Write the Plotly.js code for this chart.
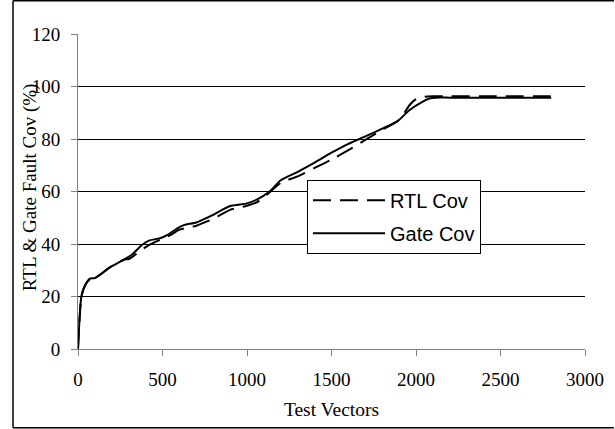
<!DOCTYPE html>
<html>
<head>
<meta charset="utf-8">
<script src="https://cdn.plot.ly/plotly-3.0.1.min.js"></script>
<style>html,body{margin:0;padding:0;background:#fff;overflow:hidden;}#chart{width:615px;height:429px;}</style>
</head>
<body>
<div id="chart"></div>
<script>
// Data
var gateX = [0, 20, 40, 70, 100, 130, 190, 270, 320, 380, 420, 490, 530, 590, 630, 700, 790, 900, 1000, 1060, 1130, 1200, 1300, 1400, 1500, 1600, 1700, 1800, 1890, 1960, 2040, 2080, 2120, 2200, 2300, 2400, 2500, 2600, 2700, 2800];
var gateY = [0, 20, 24, 26.8, 27, 28.3, 31.2, 34, 36, 39.7, 41.3, 42.3, 43.5, 46.1, 47.3, 48.2, 50.8, 54.5, 55.5, 57, 59.8, 64.3, 67.5, 71, 74.8, 78.2, 81, 84, 86.8, 91, 94.3, 95.5, 95.8, 95.8, 95.8, 95.8, 95.8, 95.8, 95.8, 95.8];
var rtlX = [0, 20, 40, 70, 100, 130, 190, 270, 300, 330, 380, 430, 500, 550, 600, 700, 800, 900, 1000, 1060, 1130, 1200, 1300, 1400, 1500, 1600, 1700, 1800, 1890, 1925, 1960, 2000, 2050, 2100, 2200, 2300, 2400, 2500, 2600, 2700, 2800];
var rtlY = [0, 20, 24, 26.5, 27, 28.3, 31.2, 34, 34.3, 35.5, 38, 40, 42, 43.5, 45.5, 47, 49.6, 53, 54.6, 56, 59.5, 63.3, 65.8, 69, 72.2, 75.8, 79.7, 83.5, 86.8, 89.3, 92.8, 95.2, 96.1, 96.3, 96.3, 96.3, 96.3, 96.3, 96.3, 96.3, 96.3];
var seriesNames = ["RTL Cov", "Gate Cov"];
var xTickVals = [0, 500, 1000, 1500, 2000, 2500, 3000];
var yTickVals = [0, 20, 40, 60, 80, 100, 120];
var xTitle = "Test Vectors";
var yTitle = "RTL & Gate Fault Cov (%)";

var traces = [
  {x: rtlX, y: rtlY, name: seriesNames[0], legendgroup: "a", type: "scatter", mode: "lines",
   line: {color: "#000", width: 2, dash: "18px,9px", shape: "spline", smoothing: 0.6}},
  {x: gateX, y: gateY, name: seriesNames[1], legendgroup: "b", type: "scatter", mode: "lines",
   line: {color: "#000", width: 2, shape: "spline", smoothing: 0.6}}
];

var serif = "'Liberation Serif', 'Times New Roman', serif";
var L = 78, R = 585, T = 34.3, B = 349.3;
var pw = R - L, ph = B - T;
function px(v) { return (v - L) / pw; }
function py(v) { return (B - v) / ph; }
var borderLine = {color: "#000", width: 1.5};

var layout = {
  width: 615, height: 429,
  paper_bgcolor: "#fff", plot_bgcolor: "#fff",
  margin: {l: L, r: 615 - R, t: T, b: 429 - B, pad: 0},
  showlegend: true,
  font: {family: serif, size: 19, color: "#000"},
  xaxis: {
    range: [0, 3000], tickvals: xTickVals, ticktext: xTickVals.map(String),
    showgrid: false, zeroline: false, showline: true, linecolor: "#808080", linewidth: 1,
    ticks: "outside", ticklen: 6, tickcolor: "#808080", tickwidth: 1, ticklabelstandoff: 7,
    tickfont: {family: serif, size: 19, color: "#000"},
    title: {text: xTitle, font: {family: serif, size: 19.5, color: "#000"}, standoff: 13},
    fixedrange: true
  },
  yaxis: {
    range: [0, 120.05], tickvals: yTickVals, ticktext: yTickVals.map(String),
    showgrid: true, gridcolor: "#000", gridwidth: 1,
    zeroline: false, showline: true, linecolor: "#808080", linewidth: 1,
    ticks: "outside", ticklen: 6, tickcolor: "#808080", tickwidth: 1, ticklabelstandoff: 7,
    tickfont: {family: serif, size: 19, color: "#000"},
    fixedrange: true
  },
  legend: {
    x: px(307), y: py(217), xanchor: "left", yanchor: "middle",
    bgcolor: "#fff", bordercolor: "#000", borderwidth: 1,
    font: {family: "'Liberation Sans', Arial, sans-serif", size: 20, color: "#000"},
    itemwidth: 72, traceorder: "grouped", tracegroupgap: 4
  },
  annotations: [
    {text: yTitle, xref: "paper", yref: "paper", x: px(30), y: py(187.5),
     xanchor: "center", yanchor: "middle", textangle: -90, showarrow: false,
     font: {family: serif, size: 19, color: "#000"}}
  ],
  shapes: [
    {type: "line", xref: "paper", yref: "paper", x0: px(13), x1: px(614), y0: py(1), y1: py(1), line: borderLine, layer: "below"},
    {type: "line", xref: "paper", yref: "paper", x0: px(13), x1: px(13), y0: py(1), y1: py(428), line: borderLine, layer: "below"},
    {type: "line", xref: "paper", yref: "paper", x0: px(13), x1: px(614), y0: py(428), y1: py(428), line: borderLine, layer: "below"}
  ]
};

Plotly.newPlot("chart", traces, layout, {staticPlot: true, displayModeBar: false});
</script>
</body>
</html>
